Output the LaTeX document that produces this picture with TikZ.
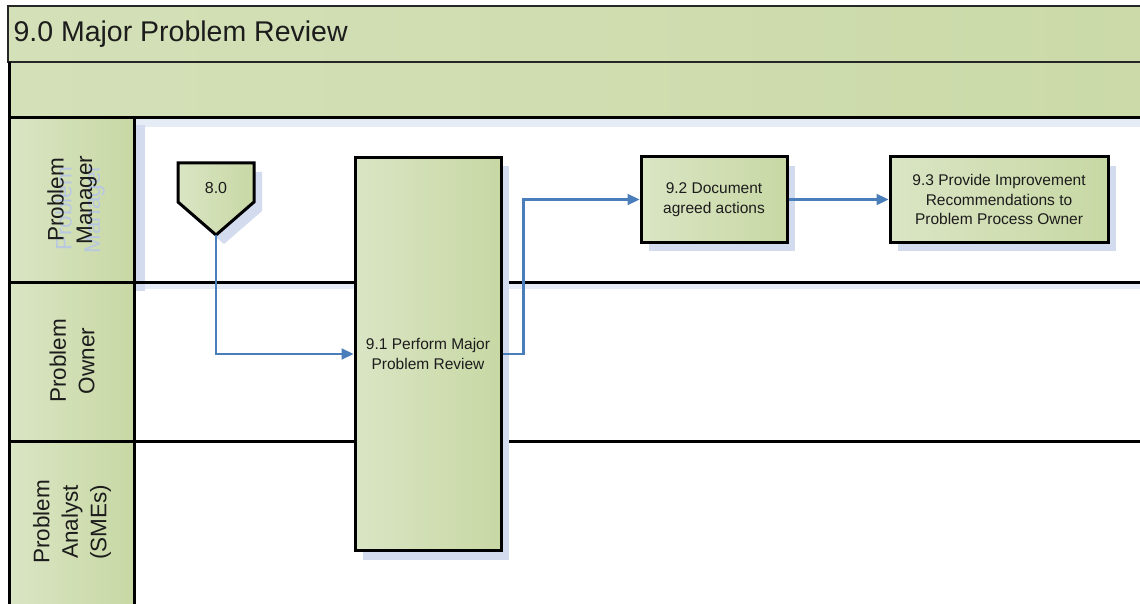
\documentclass[tikz,border=0pt]{standalone}
\usepackage{fontspec}
\setmainfont{Liberation Sans}
\usetikzlibrary{arrows.meta,shadows}

\definecolor{bandGreen}{HTML}{CBDAA8}
\definecolor{bandLight}{HTML}{D4E0B8}
\definecolor{greenLight}{HTML}{DAE5C4}
\definecolor{greenDark}{HTML}{C8D8A4}
\definecolor{shadowBlue}{HTML}{D3DCEE}
\definecolor{shadowPale}{HTML}{E6ECF5}
\definecolor{ghostBlue}{HTML}{B9C8E2}
\definecolor{flowBlue}{HTML}{4A7EBB}
\definecolor{inkGray}{HTML}{1C1C1C}

\begin{document}
\begin{tikzpicture}[x=1pt,y=-1pt,
  greenfill/.style={left color=greenLight,right color=greenDark},
  boxshadow/.style={drop shadow={shadow xshift=8pt,shadow yshift=-9pt,fill=shadowBlue,opacity=1}},
  stepbox/.style={draw=black,line width=3pt,greenfill,boxshadow,align=center,inner sep=0pt,
    text=inkGray,font=\fontsize{15.5}{19.5}\selectfont},
  lanelabel/.style={rotate=90,align=center,text=inkGray,font=\fontsize{22.5}{28.5}\selectfont},
  laneline/.style={line width=3pt,draw=black},
  flow/.style={draw=flowBlue,line width=2.2pt,-{Triangle[length=12pt,width=11pt]}}]

% page and its margins
\useasboundingbox (0,0) rectangle (1140,604);
\fill[white] (0,0) rectangle (1140,604);

% pool title band and empty phase band
\shade[left color=bandLight,right color=bandGreen] (8,6) rectangle (1140,62);
\shade[left color=bandLight,right color=bandGreen] (9,62) rectangle (1140,118);
\draw[line width=1.3pt,draw=black!85] (1140,6) -- (8,6) -- (8,62) -- (1140,62);
\node[anchor=west,text=inkGray,font=\fontsize{28.5}{32}\selectfont] (title) at (10,34) {9.0 Major Problem Review};

% soft shadows along the lanes
\fill[shadowPale] (135,119) rectangle (1140,127);
\fill[shadowPale] (135,283) rectangle (1140,289);
\fill[shadowBlue] (17,125) rectangle (145,291);

% lane header column
\shade[greenfill] (9,118) rectangle (134,282);
\shade[greenfill] (9,282) rectangle (134,441);
\shade[greenfill] (9,441) rectangle (134,604);

% faint shadow copy of the first lane label
\node[lanelabel,text=ghostBlue] (pmghost) at (80,209) {Problem\\Manager};

% lane labels
\node[lanelabel] (pm) at (72,200) {Problem\\Manager};
\node[lanelabel] (po) at (72,361) {Problem\\Owner};
\node[lanelabel] (pa) at (72,522) {Problem\\Analyst\\(SMEs)};

% lane borders
\draw[laneline] (9,62) -- (9,604);
\draw[laneline] (9,118) -- (1140,118);
\draw[laneline] (134,118) -- (134,604);
\draw[laneline] (9,282) -- (1140,282);
\draw[laneline] (9,441) -- (1140,441);

% off-page connector from process 8.0
\fill[shadowBlue] (186,172) -- (262,172) -- (262,211) -- (224,244) -- (186,211) -- cycle;
\shade[greenfill] (178,163) -- (254,163) -- (254,202) -- (216,235) -- (178,202) -- cycle;
\draw[line width=3pt,line join=miter] (178,163) -- (254,163) -- (254,202) -- (216,235) -- (178,202) -- cycle;
\node[text=inkGray,font=\fontsize{16}{19}\selectfont] (n80) at (216,188) {8.0};
\coordinate (n80tip) at (216,235);

% process steps
\node[stepbox,minimum width=146pt,minimum height=393pt] (n91) at (428,354)
  {9.1 Perform Major\\Problem Review};
\node[stepbox,minimum width=146pt,minimum height=85pt] (n92) at (714,199.5)
  {9.2 Document\\agreed actions};
\node[stepbox,minimum width=218pt,minimum height=85pt] (n93) at (999,199.5)
  {9.3 Provide Improvement\\Recommendations to\\Problem Process Owner};

% flow
\draw[flow] (n80tip) |- (n91.west);
\draw[flow] (n91.east) -- ++(21,0) |- (n92.west);
\draw[flow] (n92.east) -- (n93.west);

\end{tikzpicture}
\end{document}
